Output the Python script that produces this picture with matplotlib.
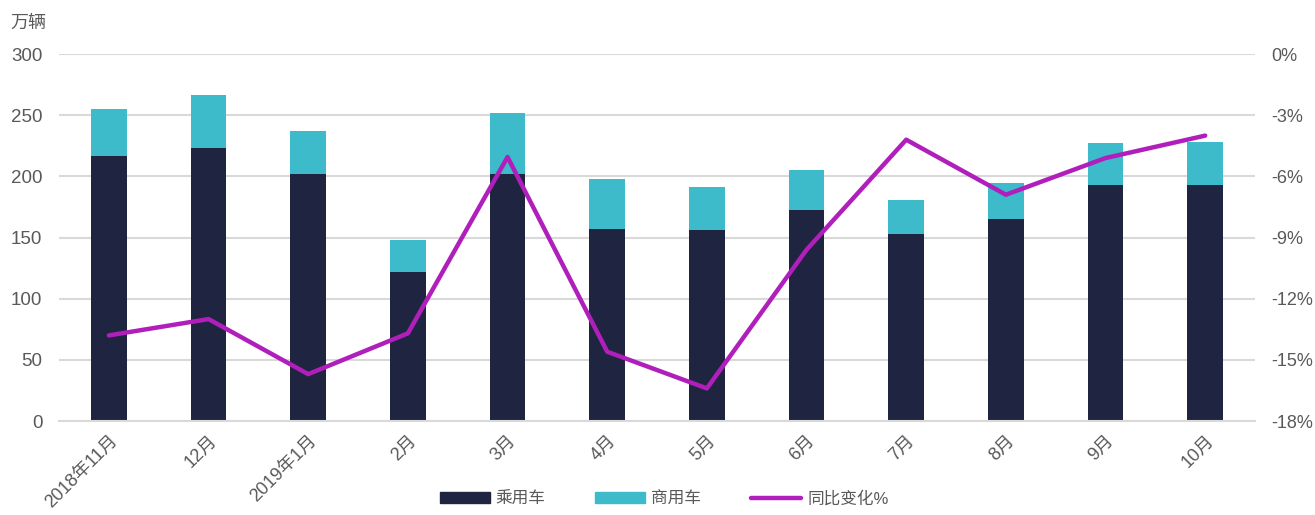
import matplotlib
matplotlib.use('Agg')
import matplotlib.pyplot as plt
from matplotlib.patches import Patch
from matplotlib.lines import Line2D
import numpy as np

plt.rcParams['font.family'] = ['Liberation Sans', 'Noto Sans CJK SC', 'DejaVu Sans']

# data
months = ['2018年11月', '12月', '2019年1月', '2月', '3月', '4月',
          '5月', '6月', '7月', '8月', '9月', '10月']
passenger = [217, 223, 202, 122, 202, 157, 156, 172.5, 153, 165, 193, 193]
total = [255, 266.5, 237, 148, 252, 198, 191, 205, 180.5, 195, 227, 228]
commercial = [t - p for t, p in zip(total, passenger)]
yoy = [-13.8, -13.0, -15.7, -13.7, -5.05, -14.6, -16.4, -9.6, -4.2, -6.9, -5.1, -4.0]

dark = '#1f2440'
teal = '#3dbbcb'
purple = '#b01fbb'
grey = '#595959'

fig = plt.figure(figsize=(13.15, 5.15), dpi=100)
ax = fig.add_axes([0.0449, 0.1825, 0.9095, 0.7125])
x = np.arange(len(months))

ax.bar(x, passenger, width=0.36, color=dark, zorder=2)
ax.bar(x, commercial, width=0.36, bottom=passenger, color=teal, zorder=2)

ax.set_xlim(-0.5, len(months) - 0.5)
ax.set_ylim(0, 300)
ax.set_yticks(range(0, 301, 50))
ax.yaxis.grid(True, color='#d9d9d9', linewidth=1.5, zorder=0)
ax.set_axisbelow(True)
for s in ['top', 'right', 'left']:
    ax.spines[s].set_visible(False)
ax.spines['bottom'].set_color('#d9d9d9')
ax.spines['bottom'].set_linewidth(1.5)
ax.tick_params(axis='y', length=0, pad=12, labelsize=13.5, labelcolor=grey)
ax.tick_params(axis='x', length=0, pad=8, labelsize=13, labelcolor=grey)
ax.set_xticks(x)
ax.set_xticklabels(months, rotation=45, ha='right', rotation_mode='anchor')

ax2 = ax.twinx()
ax2.plot(x, yoy, color=purple, linewidth=3.2, solid_capstyle='round', zorder=3)
ax2.set_ylim(-18, 0)
ax2.set_yticks(range(-18, 1, 3))
ax2.set_yticklabels([f'{v}%' for v in range(-18, 1, 3)])
for s in ax2.spines.values():
    s.set_visible(False)
ax2.tick_params(axis='y', length=0, pad=12, labelsize=13, labelcolor=grey)

fig.text(0.008, 0.955, '万辆', fontsize=13, color=grey, va='center', ha='left')

handles = [Patch(color=dark), Patch(color=teal),
           Line2D([0], [0], color=purple, linewidth=3.2, solid_capstyle='round')]
fig.legend(handles, ['乘用车', '商用车', '同比变化%'], loc='center',
           bbox_to_anchor=(0.505, 0.032), ncol=3, frameon=False,
           fontsize=12, labelcolor=grey, handlelength=3.0, handleheight=0.6,
           handletextpad=0.35, columnspacing=3.0)

fig.savefig('out.png', dpi=100)
